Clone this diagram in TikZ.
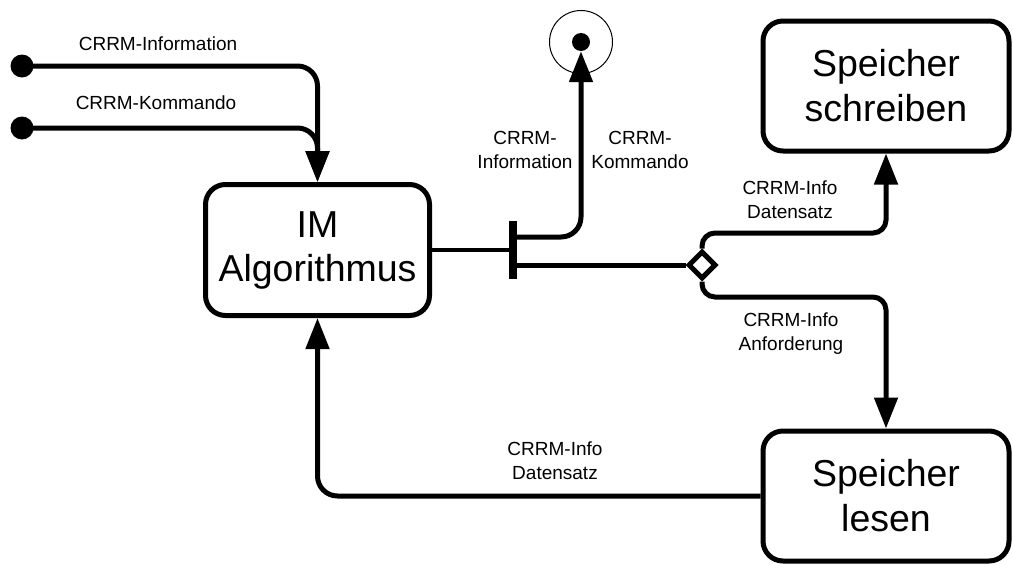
\documentclass[tikz,border=0pt]{standalone}
\usepackage{fontspec}
\setmainfont{Liberation Sans}
\usetikzlibrary{arrows.meta,shapes.geometric}

\tikzset{
  procbox/.style={draw, line width=5pt, rounded corners=20pt, fill=white,
    minimum width=246pt, minimum height=130pt, align=center, inner sep=0pt,
    font=\fontsize{37.5pt}{45pt}\selectfont},
  flow/.style={line width=5pt, rounded corners=20pt,
    -{Triangle[length=31pt,width=23pt]}},
  plain/.style={line width=5pt, rounded corners=20pt},
  tightflow/.style={line width=5pt, rounded corners=13pt,
    -{Triangle[length=31pt,width=23pt]}},
  srcdot/.style={circle, fill, minimum size=23pt, inner sep=0pt},
  lbl/.style={align=center, inner sep=0pt, font=\fontsize{19pt}{24pt}\selectfont}
}

\begin{document}
\begin{tikzpicture}[x=1pt, y=-1pt]
  \useasboundingbox (0,0) rectangle (1013,565);

  % processes
  \node[procbox, minimum width=224pt, minimum height=131pt] (im) at (317.5,250)
    {IM\\[-1pt]Algorithmus};
  \node[procbox] (sw) at (886,86) {Speicher\\schreiben};
  \node[procbox] (sl) at (886,496) {Speicher\\lesen};

  % sources and sink
  \node[srcdot] (d1) at (22,66) {};
  \node[srcdot] (d2) at (22,128) {};
  \node[circle, draw, line width=1pt, minimum size=63pt, inner sep=0pt] (ring) at (581,42) {};
  \node[circle, fill, minimum size=18pt, inner sep=0pt] (sink) at (581,42) {};

  % split bar and decision diamond
  \node[fill, minimum width=8pt, minimum height=58pt, inner sep=0pt] (bar) at (513,250) {};
  \node[diamond, draw, fill=white, line width=5pt, minimum size=28pt, inner sep=0pt] (dia) at (702,265) {};

  % bend levels
  \coordinate (upper) at (702,233);
  \coordinate (lower) at (702,297);

  % inputs into the algorithm
  \draw[flow] (d1.center) -- (d1.center -| im.north) -- (im.north);
  \draw[flow] (d2.center) -- (d2.center -| im.north) -- (im.north);

  % algorithm to the split bar
  \draw[line width=4.5pt] (im.east) -- (bar.west);

  % bar to the sink
  \draw[flow] ([yshift=13pt]bar.east) -| (sink.south);

  % bar to the diamond
  \draw[line width=5pt] ([yshift=-15pt]bar.east) -- (dia.west);

  % diamond to the memory processes
  \draw[tightflow] (dia.north) -- (upper) -| (sw.south);
  \draw[tightflow] (dia.south) -- (lower) -| (sl.north);

  % read result back to the algorithm
  \draw[flow] (sl.west) -| (im.south);

  % labels
  \node[lbl] (l1) at (158,44) {CRRM-Information};
  \node[lbl] (l2) at (156,103) {CRRM-Kommando};
  \node[lbl] (l3) at (525,150) {CRRM-\\Information};
  \node[lbl] (l4) at (640,150) {CRRM-\\Kommando};
  \node[lbl] (l5) at (790,200) {CRRM-Info\\Datensatz};
  \node[lbl] (l6) at (791,334) {CRRM-Info\\Anforderung};
  \node[lbl] (l7) at (555,461) {CRRM-Info\\Datensatz};
\end{tikzpicture}
\end{document}
